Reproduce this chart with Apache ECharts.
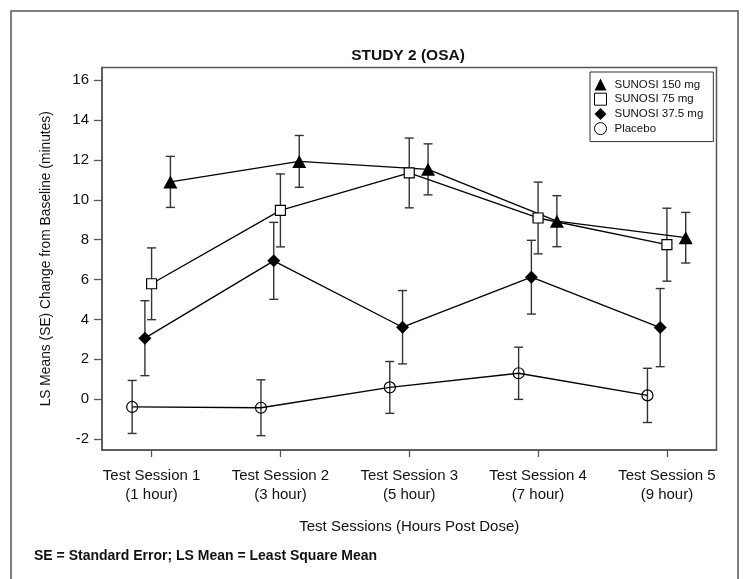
<!DOCTYPE html>
<html>
<head>
<meta charset="utf-8">
<script src="https://cdn.jsdelivr.net/npm/echarts@6/dist/echarts.min.js"></script>
<style>
html,body{margin:0;padding:0;background:#fff;}
#chart{width:743px;height:579px;}
</style>
</head>
<body>
<div id="chart"></div>
<script>
// ---- data ----
const sessionLabels = ['Test Session 1', 'Test Session 2', 'Test Session 3', 'Test Session 4', 'Test Session 5'];
const hourLabels = ['(1 hour)', '(3 hour)', '(5 hour)', '(7 hour)', '(9 hour)'];
const yTicks = [-2, 0, 2, 4, 6, 8, 10, 12, 14, 16];

const mean150 = [10.9, 11.93, 11.53, 8.93, 8.1];
const se150   = [1.28, 1.3, 1.28, 1.28, 1.27];
const mean75  = [5.79, 9.47, 11.35, 9.09, 7.75];
const se75    = [1.8, 1.83, 1.75, 1.8, 1.83];
const mean37  = [3.06, 6.94, 3.61, 6.12, 3.59];
const se37    = [1.88, 1.93, 1.84, 1.85, 1.96];
const meanPbo = [-0.39, -0.43, 0.59, 1.3, 0.19];
const sePbo   = [1.33, 1.4, 1.3, 1.31, 1.36];

// ---- styling / layout config ----
const FONT = "'Liberation Sans', Arial, Helvetica, sans-serif";
const defs = [
  {name: 'SUNOSI 150 mg', mean: mean150, se: se150, symbol: 'triangle', size: [14, 13], fill: '#000', offset: 0.146},
  {name: 'SUNOSI 75 mg', mean: mean75, se: se75, symbol: 'rect', size: 10, fill: '#fff', offset: 0},
  {name: 'SUNOSI 37.5 mg', mean: mean37, se: se37, symbol: 'diamond', size: 13, fill: '#000', offset: -0.052},
  {name: 'Placebo', mean: meanPbo, se: sePbo, symbol: 'circle', size: 11, fill: 'rgba(0,0,0,0)', offset: -0.151}
];

const series = [];
defs.forEach(function (d) {
  series.push({
    name: d.name + ' SE',
    type: 'custom',
    z: 1,
    silent: true,
    encode: {x: 0, y: [1, 2]},
    data: d.mean.map(function (v, i) { return [i + 1 + d.offset, v - d.se[i], v + d.se[i]]; }),
    renderItem: function (params, api) {
      const x = api.value(0);
      const lo = api.coord([x, api.value(1)]);
      const hi = api.coord([x, api.value(2)]);
      const w = 4.5;
      const st = {stroke: '#333', lineWidth: 1.4};
      return {
        type: 'group',
        children: [
          {type: 'line', shape: {x1: lo[0], y1: lo[1], x2: hi[0], y2: hi[1]}, style: st},
          {type: 'line', shape: {x1: lo[0] - w, y1: lo[1], x2: lo[0] + w, y2: lo[1]}, style: st},
          {type: 'line', shape: {x1: hi[0] - w, y1: hi[1], x2: hi[0] + w, y2: hi[1]}, style: st}
        ]
      };
    }
  });
});
defs.forEach(function (d) {
  series.push({
    name: d.name,
    type: 'line',
    z: 3,
    symbol: d.symbol,
    symbolSize: d.size,
    showAllSymbol: true,
    lineStyle: {color: '#000', width: 1.3},
    itemStyle: {color: d.fill, borderColor: '#000', borderWidth: d.fill === '#000' ? 0 : 1.2},
    emphasis: {disabled: true},
    data: d.mean.map(function (v, i) { return [i + 1 + d.offset, v]; })
  });
});

const chart = echarts.init(document.getElementById('chart'), null, {renderer: 'canvas'});
chart.setOption({
  animation: false,
  backgroundColor: '#fff',
  textStyle: {fontFamily: FONT},
  title: {
    text: 'STUDY 2 (OSA)',
    left: 403,
    top: 43,
    textAlign: 'center',
    textStyle: {fontFamily: FONT, fontWeight: 'bold', fontSize: 15.5, color: '#111'}
  },
  legend: {
    orient: 'vertical',
    left: 590,
    top: 72,
    padding: [6.5, 10, 6.5, 4],
    borderColor: '#333',
    borderWidth: 1,
    backgroundColor: '#fff',
    itemWidth: 12,
    itemHeight: 12,
    itemGap: 2.2,
    selectedMode: false,
    textStyle: {fontFamily: FONT, fontSize: 11.5, color: '#111', lineHeight: 12, padding: [0, 0, 0, 3]},
    data: [
      {name: 'SUNOSI 150 mg', icon: 'triangle'},
      {name: 'SUNOSI 75 mg', icon: 'rect', itemStyle: {color: '#fff', borderColor: '#000', borderWidth: 1}},
      {name: 'SUNOSI 37.5 mg', icon: 'diamond'},
      {name: 'Placebo', icon: 'circle', itemStyle: {color: '#fff', borderColor: '#000', borderWidth: 1}}
    ]
  },
  grid: {
    left: 102, right: 26.5, top: 67.5, bottom: 129,
    show: true, borderColor: '#555', borderWidth: 1.5, backgroundColor: 'transparent'
  },
  xAxis: {
    type: 'value',
    min: 0.615,
    max: 5.385,
    name: 'Test Sessions (Hours Post Dose)',
    nameLocation: 'middle',
    nameGap: 69,
    nameTextStyle: {fontFamily: FONT, fontSize: 15, color: '#111'},
    axisLine: {show: true, onZero: false, lineStyle: {color: '#555', width: 1.5}},
    axisTick: {show: true, length: 7, customValues: [1, 2, 3, 4, 5], lineStyle: {color: '#555', width: 1.3}},
    axisLabel: {
      customValues: [1, 2, 3, 4, 5],
      margin: 16,
      fontFamily: FONT, fontSize: 15, color: '#111', lineHeight: 19.5,
      formatter: function (v) {
        const i = Math.round(v) - 1;
        return sessionLabels[i] + '\n' + hourLabels[i];
      }
    },
    splitLine: {show: false}
  },
  yAxis: {
    type: 'value',
    min: -2.55,
    max: 16.64,
    name: 'LS Means (SE) Change from Baseline (minutes)',
    nameLocation: 'middle',
    nameGap: 49,
    nameTextStyle: {fontFamily: FONT, fontSize: 13.8, color: '#111'},
    axisLine: {show: true, onZero: false, lineStyle: {color: '#555', width: 1.5}},
    axisTick: {show: true, length: 8, customValues: yTicks, lineStyle: {color: '#555', width: 1.3}},
    axisLabel: {customValues: yTicks, margin: 13, fontFamily: FONT, fontSize: 15, color: '#111'},
    splitLine: {show: false}
  },
  graphic: [
    {type: 'rect', shape: {x: 11, y: 11, width: 727, height: 620}, style: {fill: 'none', stroke: '#555', lineWidth: 1.5}, z: -1, silent: true},
    {type: 'text', x: 34, y: 556, style: {text: 'SE = Standard Error; LS Mean = Least Square Mean', fontFamily: FONT, fontWeight: 'bold', fontSize: 14, fill: '#111', verticalAlign: 'middle'}}
  ],
  series: series
});
</script>
</body>
</html>
